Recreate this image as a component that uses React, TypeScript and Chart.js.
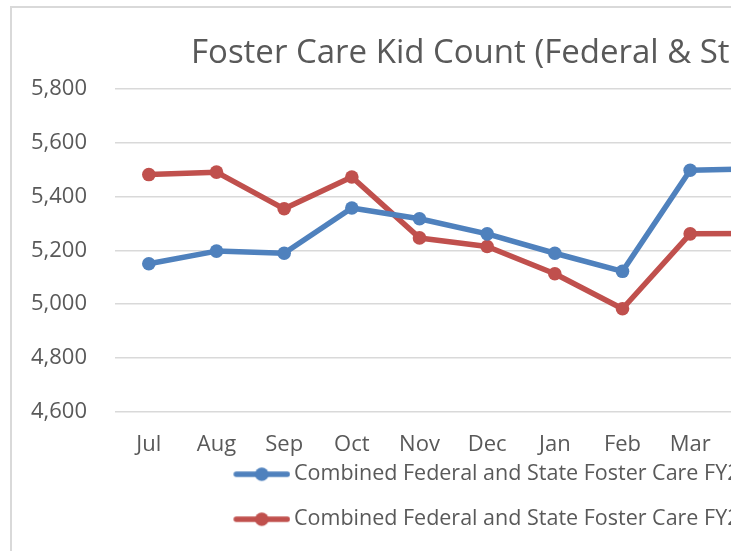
import React, { useEffect, useRef } from 'react';
import { Chart, registerables } from 'chart.js';
Chart.register(...registerables);

const months = ['Jul', 'Aug', 'Sep', 'Oct', 'Nov', 'Dec', 'Jan', 'Feb', 'Mar', 'Apr', 'May', 'Jun'];
const blueValues = [5150, 5197, 5189, 5357, 5317, 5261, 5189, 5122, 5497, 5503, null, null];
const redValues = [5481, 5490, 5354, 5472, 5246, 5214, 5113, 4983, 5261, 5262, null, null];
const seriesNames = ['Combined Federal and State Foster Care FY20', 'Combined Federal and State Foster Care FY21'];
const titleText = 'Foster Care Kid Count (Federal & State)';
const yMin = 4600;
const yMax = 5800;
const yStep = 200;

const FONT = 'Open Sans';
const W = 955;
const H = 552;

function makeMarker(color: string) {
  const c = document.createElement('canvas');
  c.width = 70;
  c.height = 16;
  const ctx = c.getContext('2d')!;
  ctx.strokeStyle = color;
  ctx.lineWidth = 5.5;
  ctx.lineCap = 'round';
  ctx.beginPath();
  ctx.moveTo(16, 8);
  ctx.lineTo(67, 8);
  ctx.stroke();
  ctx.fillStyle = color;
  ctx.beginPath();
  ctx.arc(41.5, 8, 6.8, 0, Math.PI * 2);
  ctx.fill();
  return c;
}

export default function App() {
  const ref = useRef<HTMLCanvasElement>(null);
  useEffect(() => {
    const colors = ['#4F81BD', '#C0504D'];
    const markers = colors.map(makeMarker);
    const chart = new Chart(ref.current!, {
      type: 'line',
      data: {
        labels: months,
        datasets: [
          { label: seriesNames[0], data: blueValues, borderColor: colors[0], backgroundColor: colors[0] },
          { label: seriesNames[1], data: redValues, borderColor: colors[1], backgroundColor: colors[1] },
        ],
      },
      options: {
        responsive: false,
        animation: false,
        devicePixelRatio: 1,
        layout: { padding: { left: 0, right: 0, top: 0, bottom: 20 } },
        elements: {
          line: { borderWidth: 5.5, tension: 0, borderCapStyle: 'round', borderJoinStyle: 'round' },
          point: { radius: 6.8, borderWidth: 0, hoverRadius: 6.8 },
        },
        plugins: {
          title: {
            display: true,
            text: titleText,
            color: '#595959',
            font: { family: FONT, size: 33, weight: 'normal' },
            padding: { top: 26, bottom: 15 },
          },
          legend: {
            position: 'bottom',
            labels: {
              color: '#595959',
              font: { family: FONT, size: 21.5 },
              usePointStyle: true,
              pointStyleWidth: 56,
              padding: 23.5,
              generateLabels: (ch: any) => {
                const items = Chart.defaults.plugins.legend.labels.generateLabels(ch);
                return items.map((it: any, i: number) => ({ ...it, pointStyle: markers[i] }));
              },
            },
          },
          tooltip: { enabled: false },
        },
        scales: {
          x: {
            offset: true,
            grid: { display: false, drawTicks: false },
            border: { display: false },
            ticks: { color: '#595959', font: { family: FONT, size: 22 }, padding: 20, maxRotation: 0, autoSkip: false },
            afterFit: (s: any) => {
              s.height = 28;
              // let the month labels overflow the (shortened) axis box instead of being clipped
              s._computeLabelArea = () => undefined;
            },
          },
          y: {
            min: yMin,
            max: yMax,
            grid: { color: '#d9d9d9', lineWidth: 1.5, drawTicks: false },
            border: { display: false },
            ticks: {
              stepSize: yStep,
              color: '#595959',
              font: { family: FONT, size: 22 },
              padding: 28,
              callback: (v: any) => Number(v).toLocaleString('en-US'),
            },
            afterFit: (s: any) => { s.width = 103; },
          },
          y2: {
            position: 'right',
            display: true,
            grid: { display: false, drawTicks: false },
            border: { display: false },
            ticks: { display: false },
            afterFit: (s: any) => { s.width = 40; },
          },
        },
      },
    });
    return () => chart.destroy();
  }, []);
  return (
    <div style={{ position: 'fixed', left: 0, top: 0, width: 731, height: 551, overflow: 'hidden', background: '#fff' }}>
      <div style={{ position: 'absolute', left: 10, top: 6, width: W, height: H, border: '2px solid #d9d9d9' }}>
        <canvas ref={ref} width={W} height={H} style={{ display: 'block', width: W, height: H }} />
      </div>
    </div>
  );
}
